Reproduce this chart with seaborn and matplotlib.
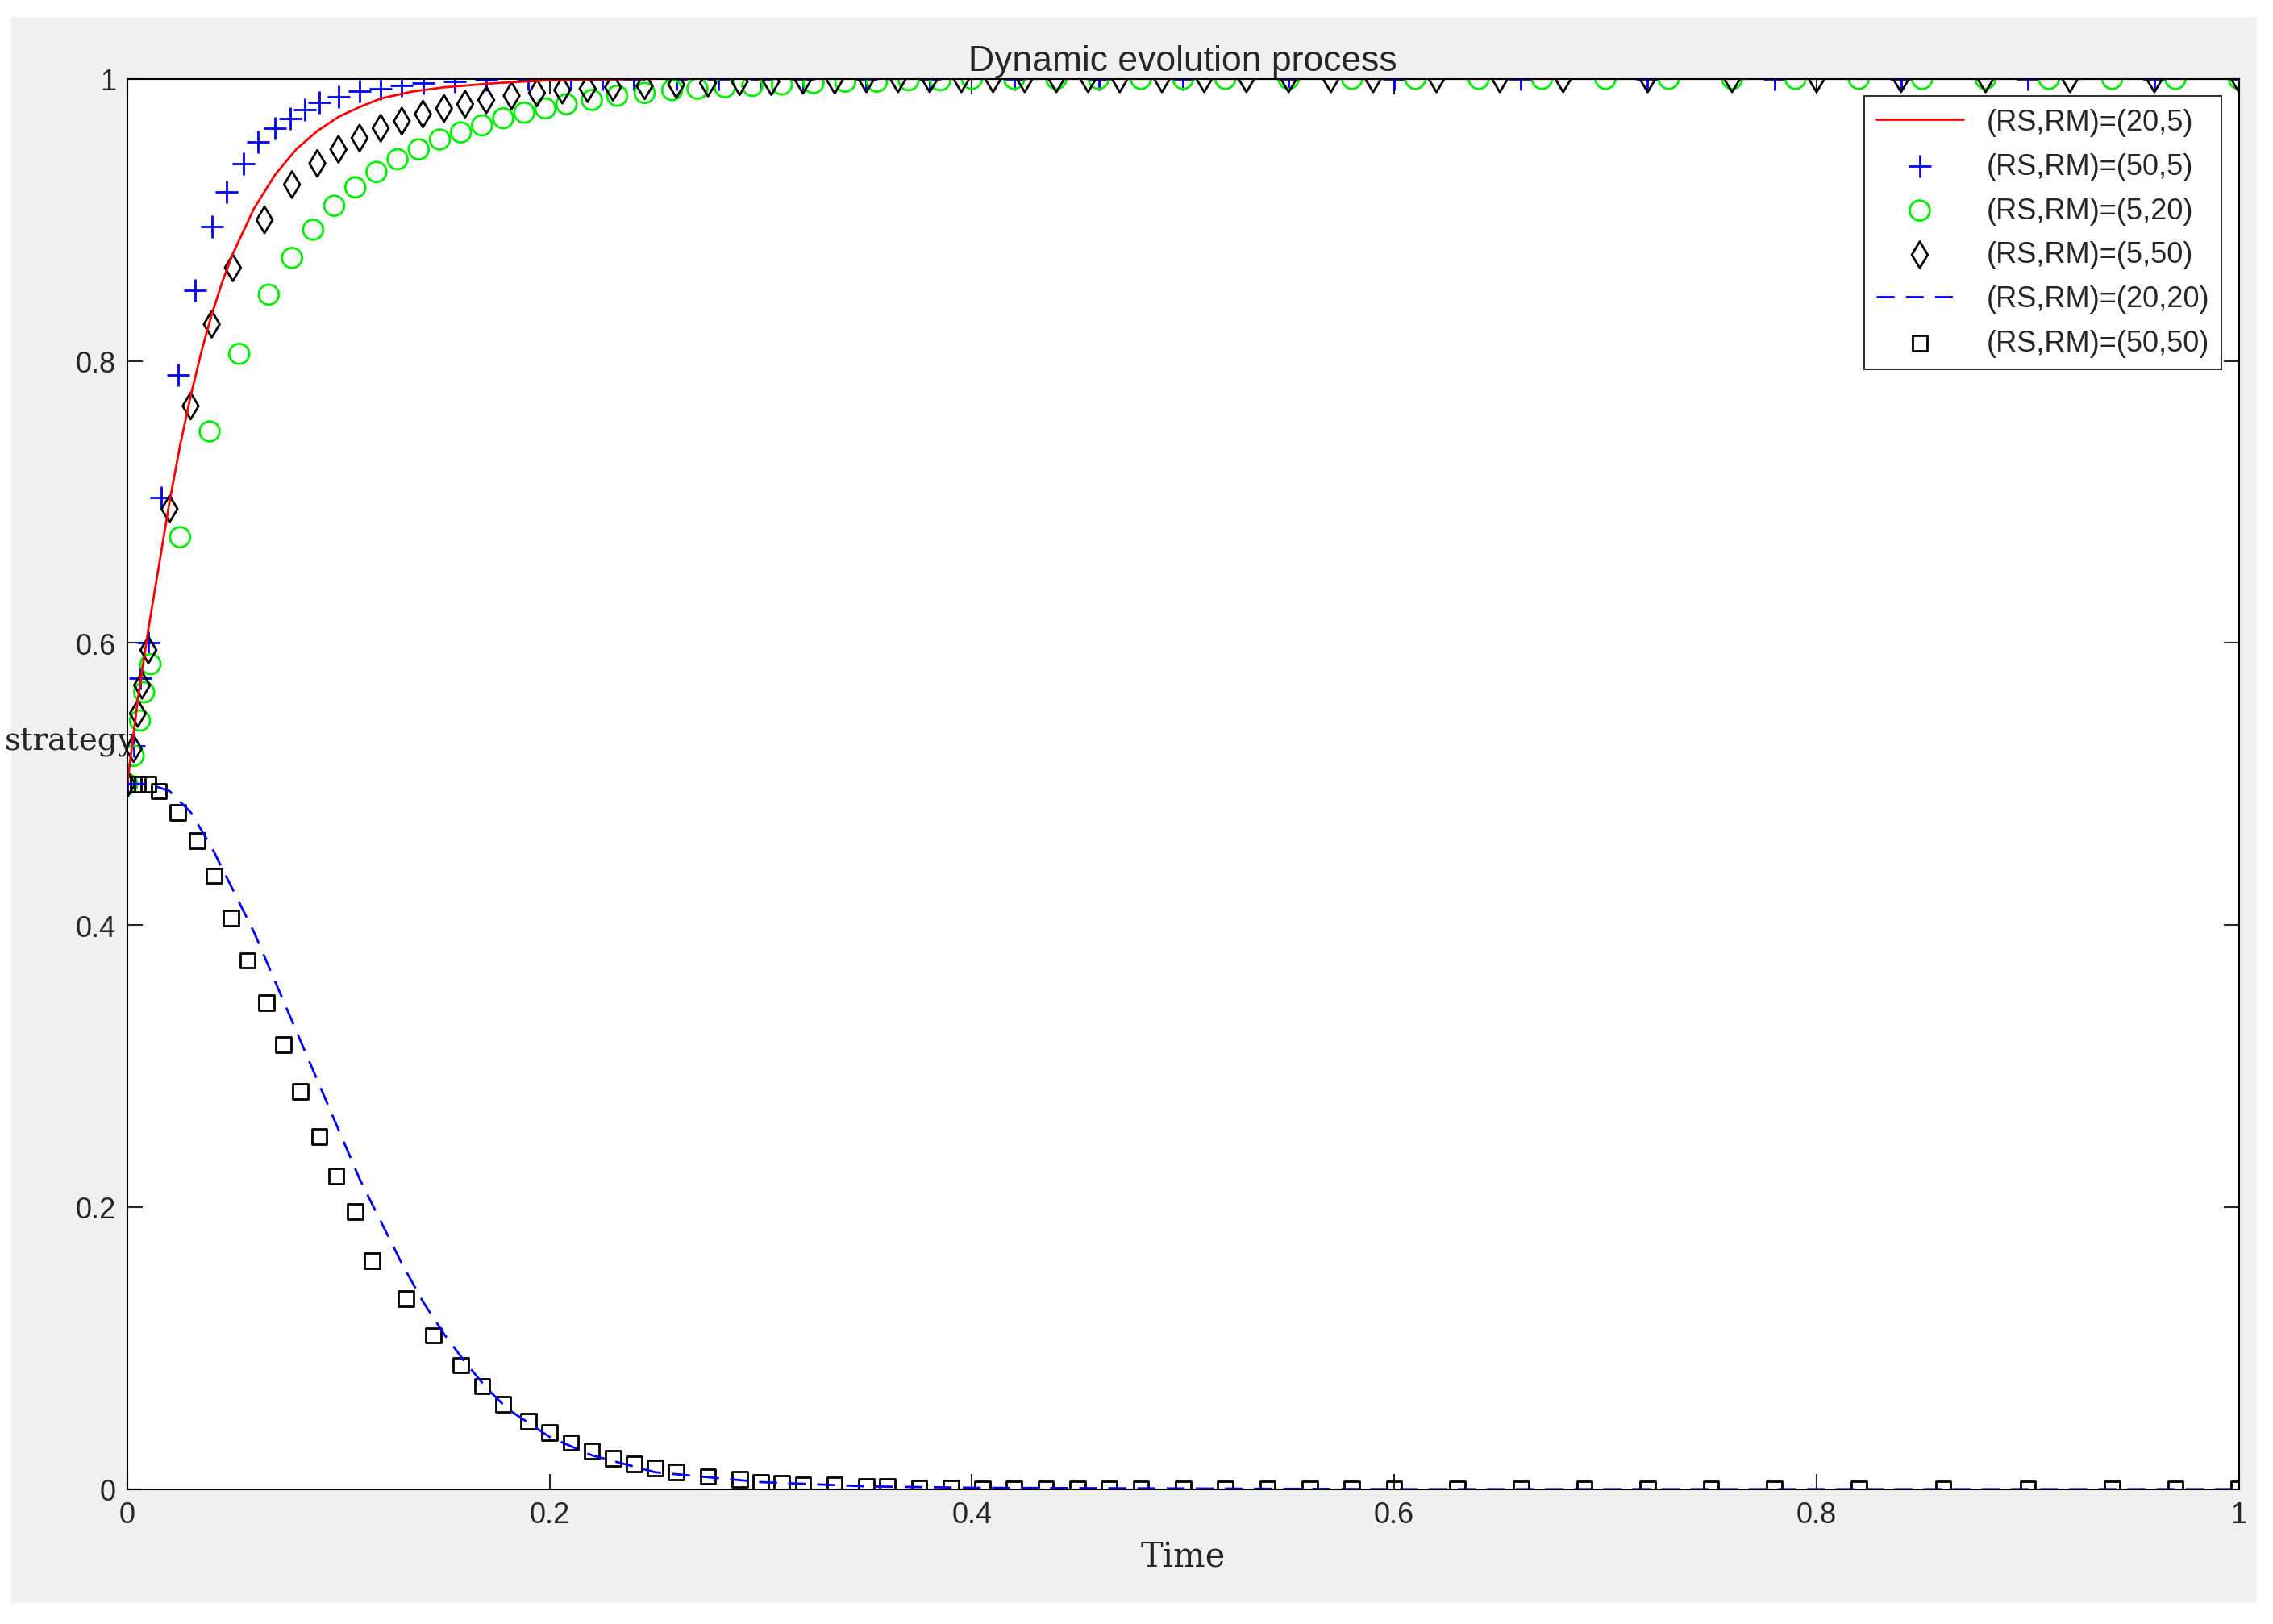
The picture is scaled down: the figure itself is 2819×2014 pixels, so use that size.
import matplotlib
matplotlib.use("Agg")
import matplotlib.pyplot as plt
import seaborn as sns
import numpy as np
from matplotlib.patches import Rectangle

# (RS,RM)=(20,5) solid red line
t_a = [0, 0.005, 0.01, 0.015, 0.02, 0.025, 0.03, 0.035, 0.04, 0.045, 0.05, 0.06, 0.07, 0.08, 0.09, 0.1, 0.11,
       0.12, 0.135, 0.15, 0.175, 0.2, 0.25, 0.3, 0.5, 1.0]
y_a = [0.5, 0.56, 0.61, 0.655, 0.70, 0.74, 0.775, 0.806, 0.833, 0.856, 0.876, 0.908, 0.932, 0.95, 0.963, 0.973,
       0.98, 0.986, 0.991, 0.994, 0.997, 0.999, 1.0, 1.0, 1.0, 1.0]

# (50,5) blue plus
t_b = [0, 0.003, 0.006, 0.01, 0.016, 0.024, 0.032, 0.04, 0.047, 0.055, 0.062, 0.07, 0.077, 0.084, 0.091, 0.1,
       0.11, 0.12, 0.13, 0.14, 0.155, 0.17, 0.19, 0.21, 0.225, 0.24, 0.26, 0.28, 0.3, 0.32, 0.35, 0.38, 0.42,
       0.46, 0.5, 0.55, 0.6, 0.66, 0.72, 0.78, 0.84, 0.9, 0.96, 1.0]
y_b = [0.5, 0.527, 0.575, 0.6, 0.703, 0.79, 0.85, 0.895, 0.92, 0.94, 0.955, 0.965, 0.972, 0.978, 0.983, 0.987,
       0.991, 0.993, 0.995, 0.997, 0.998, 0.999] + [1.0] * 22

# (5,20) green circles
t_c = [0, 0.003, 0.006, 0.008, 0.011, 0.025, 0.039, 0.053, 0.067, 0.078, 0.088, 0.098, 0.108, 0.118, 0.128,
       0.138, 0.148, 0.158, 0.168, 0.178, 0.188, 0.198, 0.208, 0.22, 0.232, 0.245, 0.258, 0.27, 0.283, 0.296,
       0.31, 0.325, 0.34, 0.355, 0.37, 0.385, 0.4, 0.42, 0.44, 0.46, 0.48, 0.5, 0.52, 0.55, 0.58, 0.61, 0.64,
       0.67, 0.7, 0.73, 0.76, 0.79, 0.82, 0.85, 0.88, 0.91, 0.94, 0.97, 1.0]
y_c = [0.5, 0.52, 0.545, 0.565, 0.585, 0.675, 0.75, 0.805, 0.847, 0.873, 0.893, 0.91, 0.923, 0.934, 0.943,
       0.95, 0.957, 0.962, 0.967, 0.972, 0.976, 0.979, 0.982, 0.985, 0.988, 0.99, 0.992, 0.993, 0.994, 0.995,
       0.996, 0.997, 0.998, 0.998, 0.999, 0.999] + [1.0] * 23

# (5,50) black diamonds
t_d = [0, 0.003, 0.005, 0.007, 0.01, 0.02, 0.03, 0.04, 0.05, 0.065, 0.078, 0.09, 0.1, 0.11, 0.12, 0.13, 0.14,
       0.15, 0.16, 0.17, 0.182, 0.194, 0.206, 0.218, 0.23, 0.245, 0.26, 0.275, 0.29, 0.305, 0.32, 0.335, 0.35,
       0.365, 0.38, 0.395, 0.41, 0.425, 0.44, 0.455, 0.47, 0.49, 0.51, 0.53, 0.55, 0.57, 0.59, 0.62, 0.65,
       0.68, 0.72, 0.76, 0.8, 0.84, 0.88, 0.92, 0.96, 1.0]
y_d = [0.5, 0.525, 0.55, 0.57, 0.595, 0.695, 0.768, 0.826, 0.866, 0.9, 0.925, 0.94, 0.95, 0.958, 0.965, 0.97,
       0.975, 0.979, 0.982, 0.985, 0.988, 0.99, 0.992, 0.993, 0.994, 0.995, 0.996, 0.997, 0.998, 0.998, 0.999,
       0.999] + [1.0] * 26

# (20,20) blue dashed
t_e = [0, 0.01, 0.02, 0.03, 0.04, 0.05, 0.06, 0.07, 0.08, 0.09, 0.1, 0.11, 0.12, 0.13, 0.14, 0.15, 0.16, 0.17,
       0.18, 0.2, 0.22, 0.25, 0.3, 0.35, 0.4, 0.6, 1.0]
y_e = [0.5, 0.5, 0.495, 0.48, 0.455, 0.425, 0.395, 0.36, 0.325, 0.29, 0.255, 0.22, 0.19, 0.16, 0.133, 0.11,
       0.09, 0.072, 0.057, 0.037, 0.024, 0.012, 0.005, 0.002, 0.001, 0.0, 0.0]

# (50,50) black squares
t_f = [0, 0.005, 0.01, 0.015, 0.024, 0.033, 0.041, 0.049, 0.057, 0.066, 0.074, 0.082, 0.091, 0.099, 0.108,
       0.116, 0.132, 0.145, 0.158, 0.168, 0.178, 0.19, 0.2, 0.21, 0.22, 0.23, 0.24, 0.25, 0.26, 0.275, 0.29,
       0.3, 0.31, 0.32, 0.335, 0.35, 0.36, 0.375, 0.39, 0.405, 0.42, 0.435, 0.45, 0.465, 0.48, 0.5, 0.52, 0.54,
       0.56, 0.58, 0.6, 0.63, 0.66, 0.69, 0.72, 0.75, 0.78, 0.82, 0.86, 0.9, 0.94, 0.97, 1.0]
y_f = [0.5, 0.5, 0.5, 0.495, 0.48, 0.46, 0.435, 0.405, 0.375, 0.345, 0.315, 0.282, 0.25, 0.222, 0.197, 0.162,
       0.135, 0.109, 0.088, 0.073, 0.06, 0.048, 0.04, 0.033, 0.027, 0.022, 0.018, 0.015, 0.012, 0.009, 0.007,
       0.005, 0.004, 0.003, 0.003, 0.002, 0.002, 0.001, 0.001] + [0.0] * 24

sns.set_style("white")
plt.rcParams['font.family'] = ['Liberation Sans', 'DejaVu Sans']
fig = plt.figure(figsize=(28.19, 20.15), dpi=100, facecolor="white")
fig.patches.append(Rectangle((0.005, 0.013), 0.988, 0.976, transform=fig.transFigure,
                             facecolor="#f0f0f0", edgecolor="none", zorder=-1))
ax = fig.add_axes([0.056, 0.083, 0.929, 0.868])

sns.lineplot(x=t_a, y=y_a, ax=ax, color="red", lw=2, label="(RS,RM)=(20,5)")
sns.scatterplot(x=t_b, y=y_b, ax=ax, marker="+", color="blue", s=400, linewidth=2, label="(RS,RM)=(50,5)")
ax.scatter(t_c, y_c, marker="o", facecolors="none", edgecolors="#00ee00", s=320, linewidths=2,
           label="(RS,RM)=(5,20)")
ax.scatter(t_d, y_d, marker="d", facecolors="none", edgecolors="black", s=280, linewidths=2,
           label="(RS,RM)=(5,50)")
sns.lineplot(x=t_e, y=y_e, ax=ax, color="blue", lw=2, dashes=(8, 5), label="(RS,RM)=(20,20)")
ax.scatter(t_f, y_f, marker="s", facecolors="none", edgecolors="black", s=180, linewidths=2,
           label="(RS,RM)=(50,50)")

ax.set_xlim(0, 1)
ax.set_ylim(0, 1)
ax.set_xticks([0, 0.2, 0.4, 0.6, 0.8, 1])
ax.set_xticklabels(["0", "0.2", "0.4", "0.6", "0.8", "1"])
ax.set_yticks([0, 0.2, 0.4, 0.6, 0.8, 1])
ax.set_yticklabels(["0", "0.2", "0.4", "0.6", "0.8", "1"])
ax.tick_params(direction="in", length=14, width=1.5, labelsize=26, top=True, right=True,
               bottom=True, left=True, pad=10)
for s in ax.spines.values():
    s.set_linewidth(1.5)
    s.set_color("black")

ax.set_title("Dynamic evolution process", fontsize=32, pad=8)
ax.set_xlabel("Time", fontsize=30, family="DejaVu Serif", labelpad=10)
ax.set_ylabel("strategy", fontsize=28, family="DejaVu Serif", rotation=0, labelpad=0)
ax.yaxis.set_label_coords(-0.027, 0.52)

leg = ax.legend(loc="upper right", fontsize=26, frameon=True, fancybox=False, edgecolor="black",
                borderaxespad=0.6, handlelength=3, labelspacing=0.55)
leg.get_frame().set_linewidth(1.5)

fig.savefig("out.png", dpi=100, facecolor="white")
